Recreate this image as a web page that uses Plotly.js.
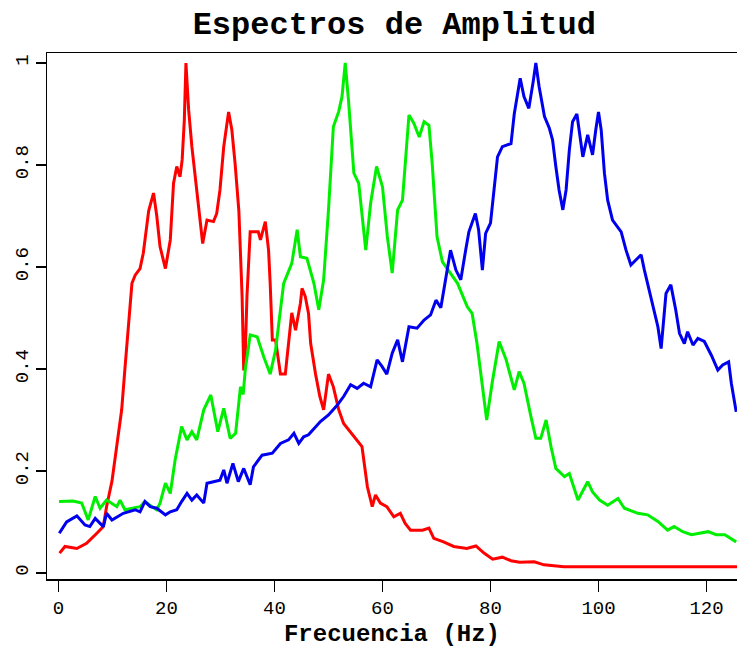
<!DOCTYPE html>
<html>
<head>
<meta charset="utf-8">
<script src="https://cdn.plot.ly/plotly-3.0.1.min.js"></script>
<style>
  html, body { margin: 0; padding: 0; background: #ffffff; }
  #chart { width: 737px; height: 648px; }
</style>
</head>
<body>
<div id="chart"></div>
<script>
// Amplitude spectra (normalised) of three signals, frequency in Hz
const redFreq = [0.2,1.2,3.4,5.2,7.1,8.3,8.9,9.9,10.8,11.7,12.3,13.0,13.6,14.2,15.1,15.7,16.7,17.6,18.2,18.8,19.8,20.7,21.3,21.9,22.5,22.9,23.3,23.6,24.1,24.7,25.3,26.2,26.7,27.5,28.7,29.3,29.9,30.6,31.5,32.1,32.7,33.4,34.0,34.3,34.5,34.9,35.5,37.0,37.4,38.3,38.9,39.2,39.6,40.2,41.1,42.0,42.6,43.2,43.9,44.8,45.1,45.7,46.3,46.7,47.6,48.4,49.1,50.0,50.9,51.9,52.8,55.3,56.2,57.2,58.1,58.7,59.6,60.8,62.1,63.3,64.2,65.2,67.4,68.6,69.5,71.3,73.2,75.6,77.3,78.8,80.4,82.2,83.8,85.4,88.1,89.9,93.6,126];
const redAmp = [0.039,0.052,0.048,0.058,0.078,0.091,0.13,0.18,0.25,0.32,0.40,0.50,0.568,0.584,0.597,0.627,0.71,0.745,0.70,0.64,0.597,0.653,0.764,0.797,0.777,0.81,0.888,1.0,0.908,0.836,0.777,0.70,0.646,0.692,0.689,0.705,0.751,0.836,0.904,0.869,0.803,0.71,0.542,0.40,0.40,0.542,0.669,0.669,0.653,0.689,0.633,0.568,0.457,0.457,0.39,0.39,0.457,0.51,0.476,0.529,0.558,0.542,0.509,0.45,0.39,0.346,0.32,0.39,0.365,0.32,0.293,0.261,0.248,0.169,0.13,0.153,0.137,0.13,0.11,0.117,0.097,0.084,0.084,0.088,0.068,0.061,0.052,0.048,0.053,0.039,0.027,0.031,0.024,0.021,0.022,0.016,0.012,0.012];

const greenFreq = [0.1,2.7,4.3,5.5,6.8,7.7,8.9,10.8,11.4,12.3,15.1,16.0,17.3,18.2,18.8,19.8,20.7,21.6,22.8,23.8,24.7,25.6,26.9,28.2,29.5,30.6,31.8,32.8,33.7,34.2,34.6,35.5,36.8,38.0,39.2,40.2,40.8,41.7,43.2,44.2,44.8,46.0,47.3,48.2,49.1,50.0,50.9,51.9,52.5,53.1,53.7,54.7,55.6,56.9,57.8,58.9,60.0,60.9,61.8,62.8,63.7,64.9,65.8,66.8,67.7,68.6,69.2,70.1,71.1,73.9,75.7,76.6,77.5,78.5,79.3,80.3,81.6,82.9,84.4,85.3,86.2,87.5,88.4,89.3,90.3,91.2,92.1,93.7,94.6,96.2,98.0,98.9,100.2,101.7,103.6,104.8,107.3,109.1,111.0,112.8,114.0,115.6,117.2,120.3,121.8,123.4,125.5];
const greenAmp = [0.14,0.141,0.137,0.104,0.15,0.127,0.143,0.13,0.143,0.124,0.13,0.14,0.13,0.124,0.137,0.176,0.156,0.222,0.287,0.261,0.277,0.261,0.32,0.349,0.277,0.323,0.264,0.274,0.365,0.35,0.40,0.467,0.463,0.424,0.39,0.437,0.49,0.568,0.607,0.673,0.62,0.617,0.568,0.516,0.575,0.712,0.875,0.905,0.934,1.0,0.927,0.784,0.764,0.633,0.725,0.797,0.757,0.659,0.588,0.712,0.731,0.898,0.882,0.855,0.885,0.878,0.803,0.659,0.61,0.568,0.522,0.509,0.45,0.372,0.30,0.372,0.454,0.418,0.359,0.395,0.372,0.306,0.264,0.264,0.30,0.248,0.205,0.189,0.195,0.143,0.179,0.159,0.143,0.133,0.146,0.127,0.117,0.114,0.101,0.084,0.091,0.081,0.075,0.081,0.075,0.075,0.061];

const blueFreq = [0.15,0.9,1.5,3.4,4.9,5.8,6.8,8.3,8.9,9.9,12.0,14.2,15.1,16.0,17.0,18.2,19.8,20.7,21.9,22.8,23.8,24.7,25.6,26.9,27.5,28.7,29.9,30.6,31.2,32.3,33.3,34.3,35.5,36.1,37.7,39.6,41.1,42.6,43.6,44.5,45.4,46.3,47.6,48.5,50.0,51.6,52.8,54.1,55.3,56.5,57.8,59.0,59.9,60.8,61.8,62.8,63.7,64.9,66.4,67.7,68.9,69.9,70.8,71.7,72.6,73.6,74.5,75.4,76.0,77.2,77.8,78.5,79.1,80.0,80.6,81.3,82.2,83.8,84.4,85.5,86.2,87.1,87.9,88.4,89.0,90.0,90.9,91.5,92.1,92.7,93.4,94.0,94.6,95.2,96.0,96.4,97.1,98.0,98.9,99.5,100.0,100.5,101.1,101.7,102.6,104.2,105.1,106.0,107.9,108.5,109.7,111.0,111.6,112.5,113.4,114.3,115.0,115.9,116.5,117.5,118.4,119.6,120.9,122.1,123.0,124.1,124.6,125.5];
const blueAmp = [0.078,0.091,0.10,0.112,0.094,0.091,0.107,0.091,0.117,0.104,0.117,0.124,0.12,0.14,0.13,0.127,0.114,0.12,0.124,0.14,0.156,0.143,0.153,0.137,0.176,0.179,0.182,0.202,0.176,0.215,0.179,0.205,0.173,0.208,0.231,0.235,0.254,0.261,0.274,0.254,0.267,0.271,0.287,0.297,0.31,0.329,0.346,0.369,0.362,0.372,0.365,0.418,0.405,0.39,0.431,0.457,0.414,0.483,0.48,0.496,0.506,0.535,0.52,0.581,0.633,0.594,0.575,0.633,0.669,0.705,0.673,0.594,0.666,0.686,0.744,0.816,0.836,0.842,0.90,0.97,0.934,0.911,0.963,1.0,0.954,0.895,0.872,0.849,0.797,0.751,0.712,0.751,0.829,0.885,0.90,0.869,0.816,0.859,0.82,0.869,0.904,0.869,0.784,0.731,0.692,0.669,0.633,0.604,0.624,0.594,0.542,0.483,0.44,0.548,0.565,0.516,0.47,0.45,0.473,0.447,0.46,0.454,0.427,0.398,0.408,0.414,0.372,0.316];

const xTicks = [0, 20, 40, 60, 80, 100, 120];
const yTicks = [0, 0.2, 0.4, 0.6, 0.8, 1];
const yTickText = ['0', '0.2', '0.4', '0.6', '0.8', '1'];

const monoFont = '"Liberation Mono", "DejaVu Sans Mono", monospace';

function spectrum(x, y, color) {
  return {
    x: x, y: y, type: 'scatter', mode: 'lines',
    line: { color: color, width: 3, shape: 'linear' },
    hoverinfo: 'skip', showlegend: false
  };
}

const data = [
  spectrum(redFreq, redAmp, '#ff0000'),
  spectrum(greenFreq, greenAmp, '#00ee00'),
  spectrum(blueFreq, blueAmp, '#0000ee')
];

const layout = {
  width: 737, height: 648,
  margin: { l: 47, r: 0, t: 53, b: 69, pad: 0 },
  paper_bgcolor: '#ffffff', plot_bgcolor: '#ffffff',
  showlegend: false,
  title: {
    text: 'Espectros de Amplitud',
    font: { family: monoFont, size: 32, color: '#000000', weight: 'bold' },
    x: 0.535, xanchor: 'center', y: 0.965, yanchor: 'middle'
  },
  xaxis: {
    range: [-2.13, 125.65],
    tickvals: xTicks, ticktext: xTicks.map(String),
    ticks: 'outside', ticklen: 11, tickwidth: 1.5, tickcolor: '#000',
    showline: true, linecolor: '#000', linewidth: 1.5, mirror: true,
    showgrid: false, zeroline: false,
    tickfont: { family: monoFont, size: 19, color: '#000' },
    title: {
      text: 'Frecuencia (Hz)',
      font: { family: monoFont, size: 24, color: '#000', weight: 'bold' },
      standoff: 6
    }
  },
  yaxis: {
    range: [-0.0118, 1.0196],
    tickvals: yTicks, ticktext: yTickText,
    tickangle: -90,
    ticks: 'outside', ticklen: 10, tickwidth: 1.5, tickcolor: '#000',
    showline: true, linecolor: '#000', linewidth: 1.5, mirror: false,
    showgrid: false, zeroline: false,
    tickfont: { family: monoFont, size: 19, color: '#000' }
  }
};

Plotly.newPlot('chart', data, layout, { staticPlot: true, displayModeBar: false });
</script>
</body>
</html>
